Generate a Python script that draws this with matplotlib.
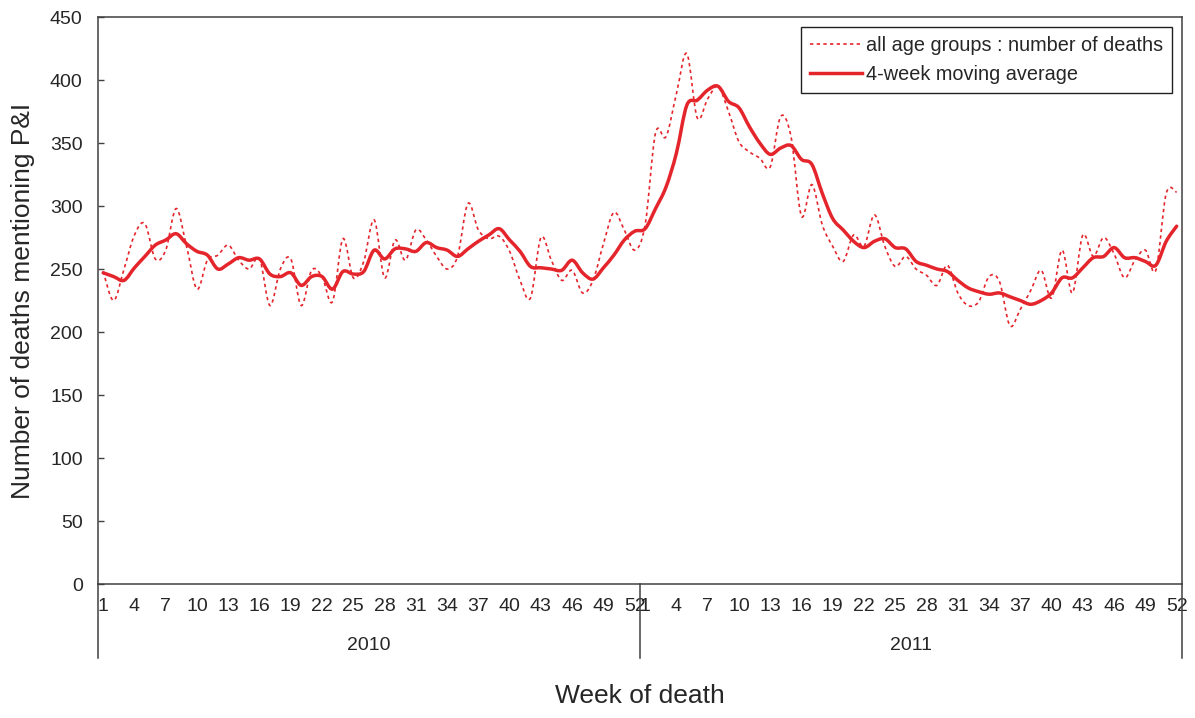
import matplotlib
matplotlib.use("Agg")
import matplotlib.pyplot as plt
from matplotlib.path import Path
from matplotlib.patches import PathPatch
from matplotlib.lines import Line2D
import numpy as np

# weekly deaths mentioning P&I
years = ["2010", "2011"]
weeks = list(range(1, 53))
raw_2010 = [248, 225, 250, 277, 286, 258, 265, 298, 268, 234, 257, 261, 269,
            257, 250, 258, 221, 250, 258, 221, 249, 244, 224, 274, 243, 256,
            289, 243, 273, 257, 281, 273, 260, 250, 260, 302, 281, 274, 276,
            264, 241, 227, 275, 257, 241, 249, 231, 241, 270, 295, 281, 265]
raw_2011 = [285, 358, 355, 389, 421, 370, 385, 395, 375, 351, 343, 338, 331,
            371, 355, 292, 317, 285, 268, 256, 277, 268, 293, 268, 252, 260,
            250, 245, 237, 253, 231, 221, 224, 244, 240, 205, 218, 233, 249,
            227, 265, 231, 277, 260, 275, 262, 243, 257, 265, 249, 310, 311]
ma_2010 = [247, 244, 241, 251, 260, 269, 273, 278, 270, 264, 261, 250, 254,
           259, 257, 258, 246, 244, 247, 237, 244, 244, 234, 248, 246, 248,
           265, 258, 266, 266, 264, 271, 267, 265, 260, 266, 272, 277, 282,
           273, 264, 252, 251, 250, 249, 257, 247, 242, 251, 261, 273, 280]
ma_2011 = [282, 298, 315, 342, 380, 384, 392, 395, 383, 378, 363, 350, 341,
           346, 348, 337, 333, 310, 290, 281, 272, 267, 272, 274, 267, 266,
           256, 253, 250, 248, 241, 235, 232, 230, 231, 228, 225, 222, 225,
           231, 243, 243, 251, 259, 260, 267, 259, 259, 256, 253, 272, 284]

RED = "#E5252C"
TXT = "#262626"
AX = "#404040"


def smooth_path(y):
    # excel style smoothed line: cubic bezier through every point
    pts = np.column_stack([np.arange(len(y)), np.asarray(y, float)])
    verts = [pts[0]]
    codes = [Path.MOVETO]
    n = len(pts)
    for i in range(n - 1):
        p0 = pts[max(i - 1, 0)]
        p1 = pts[i]
        p2 = pts[i + 1]
        p3 = pts[min(i + 2, n - 1)]
        c1 = p1 + (p2 - p0) / 6.0
        c2 = p2 - (p3 - p1) / 6.0
        verts += [c1, c2, p2]
        codes += [Path.CURVE4] * 3
    return Path(verts, codes)


plt.rcParams["font.family"] = ["Liberation Sans", "DejaVu Sans"]

fig = plt.figure(figsize=(11.95, 7.18), dpi=100)
ax = fig.add_axes([0.082, 0.1866, 0.907, 0.7897])

raw = raw_2010 + raw_2011
ma = ma_2010 + ma_2011

ax.add_patch(PathPatch(smooth_path(raw), fill=False, edgecolor=RED,
                       lw=1.2, linestyle=(0, (2, 2))))
ax.add_patch(PathPatch(smooth_path(ma), fill=False, edgecolor=RED, lw=2.5,
                       capstyle="round", joinstyle="round"))

n = len(raw)
ax.set_xlim(-0.5, n - 0.5)
ax.set_ylim(0, 450)
ax.set_yticks(range(0, 451, 50))
ax.tick_params(axis="y", direction="in", length=4, width=1, color=AX,
               labelsize=14, labelcolor=TXT, pad=11)

# week labels every 3 weeks, restarting at 1 each year
pos, labs = [], []
for k in range(len(years)):
    for w in weeks[::3]:
        pos.append(52 * k + w - 1)
        labs.append(str(w))
ax.set_xticks(pos)
ax.set_xticklabels(labs)
ax.tick_params(axis="x", length=0, labelsize=14, labelcolor=TXT, pad=10)

for s in ax.spines.values():
    s.set_color(AX)
    s.set_linewidth(1.1)

# year separators and year labels below the axis
tr = ax.get_xaxis_transform()
for b in [-0.5, 51.5, n - 0.5]:
    ax.add_line(Line2D([b, b], [0, -0.131], transform=tr, color=AX,
                       lw=1.1, clip_on=False))
for k, yr in enumerate(years):
    ax.text(25.5 + 52 * k, -0.108, yr, transform=tr, ha="center",
            va="center", fontsize=14, color=TXT)

ax.set_xlabel("Week of death", fontsize=19, color=TXT, labelpad=50)
ax.set_ylabel("Number of deaths mentioning P&I", fontsize=19, color=TXT,
              labelpad=11)

handles = [Line2D([], [], color=RED, lw=1.2, linestyle=(0, (2, 2))),
           Line2D([], [], color=RED, lw=2.5)]
leg = ax.legend(handles, ["all age groups : number of deaths",
                          "4-week moving average"],
                loc="upper right", fontsize=14.3, handlelength=2.6,
                handletextpad=0.2, borderaxespad=0.5, fancybox=False,
                framealpha=1, edgecolor="#202020", labelspacing=0.5,
                borderpad=0.45)
leg.get_frame().set_linewidth(1.0)
for t in leg.get_texts():
    t.set_color(TXT)

fig.savefig("out.png", dpi=100)
